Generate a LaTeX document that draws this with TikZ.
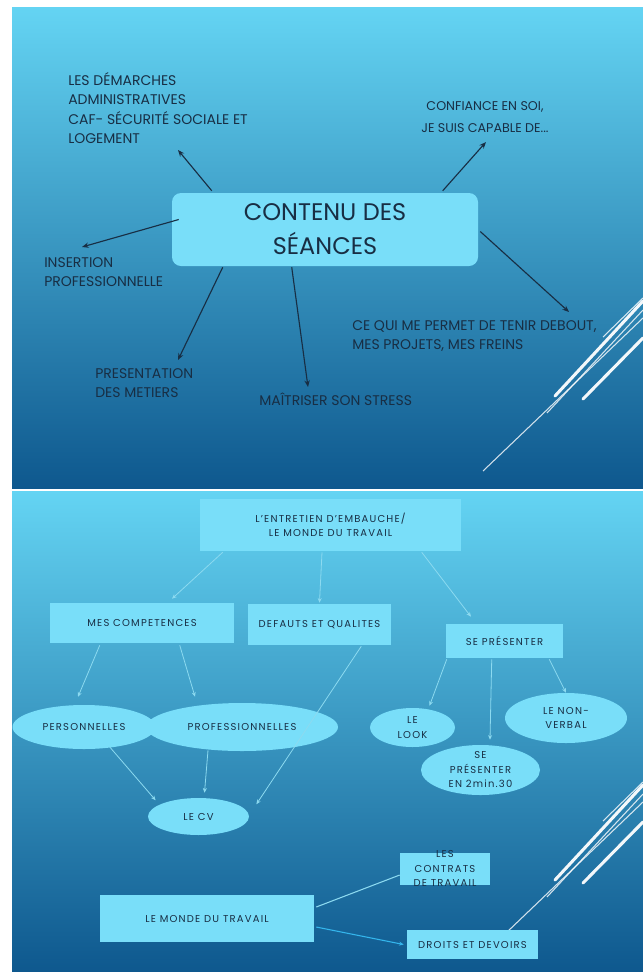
\documentclass[tikz,border=0pt]{standalone}
\usepackage{fontspec}
\setmainfont{Poppins}
\newfontfamily\trackfont[LetterSpace=12]{Poppins}
\usetikzlibrary{calc,positioning,shapes.geometric,arrows.meta}
\definecolor{slidetop}{RGB}{100,212,243}
\definecolor{slidemid}{RGB}{50,150,200}
\definecolor{slidebottom}{RGB}{14,88,142}
\definecolor{boxcyan}{RGB}{121,222,249}
\definecolor{ink}{RGB}{24,46,68}
\definecolor{linkcyan}{RGB}{140,218,240}
\newdimen\pxu \pxu=0.75pt
\newcommand{\stacked}[1]{\smash{\raisebox{-2pt}{\begin{tabular}{@{}c@{}}#1\end{tabular}}}}

\begin{document}
\begin{tikzpicture}[x=0.75pt,y=-0.75pt]
    \tikzstyle{mainbox}=[rectangle,rounded corners=9\pxu,fill=boxcyan,text=ink,minimum width=306\pxu,minimum height=73\pxu,align=center,font=\fontsize{18}{25.5}\selectfont];
    \tikzstyle{topnote}=[text=ink,align=left,inner sep=0pt,font=\fontsize{10.5}{14.6}\selectfont];
    \tikzstyle{darrow}=[draw=ink,line width=0.85pt,-{Stealth[length=5pt,width=4pt]}];
    \tikzstyle{subbox}=[rectangle,fill=boxcyan,text=ink,align=center,inner sep=0pt,font=\trackfont\fontsize{7.5}{10.9}\selectfont];
    \tikzstyle{subell}=[subbox,ellipse];
    \tikzstyle{larrow}=[draw=linkcyan,line width=0.6pt,-{Stealth[length=3.5pt,width=3pt]}];
    \tikzstyle{deco wide}=[white,line width=2.3pt,line cap=round,opacity=0.95];
    \tikzstyle{deco thin}=[white,line width=0.8pt,opacity=0.8];

    % Page and the two slides
    \fill[white] (0,0) rectangle (643,972);
    \useasboundingbox (0,0) rectangle (643,972);
    \foreach \sy in {7,491}
    \shade[top color=slidetop,middle color=slidemid,bottom color=slidebottom] (12,\sy) rectangle (643,\sy+481);

    % Decorative lines on the right of each slide
    \foreach \dy in {0,484} {
      \begin{scope}[shift={(0,\dy)}]
        \draw[deco thin] (483,471) -- (643,318);
        \draw[deco wide] (555,396) -- (643,301);
        \draw[deco thin] (547,413) -- (643,310);
        \draw[deco wide] (583,399) -- (643,338);
        \draw[deco thin] (603,337) -- (643,298);
      \end{scope}
    }

    % Draw the first slide
    \node[mainbox] (seances) at (325,229.5) {CONTENU DES\\SÉANCES};
    \node[topnote,anchor=west] (demarches) at (68,108) {LES DÉMARCHES\\ADMINISTRATIVES\\CAF- SÉCURITÉ SOCIALE ET\\LOGEMENT};
    \node[topnote,align=center,font=\fontsize{9.5}{16}\selectfont] (confiance) at (485,117) {CONFIANCE EN SOI,\\JE SUIS CAPABLE DE...};
    \node[topnote,anchor=west] (insertion) at (44,272) {INSERTION\\PROFESSIONNELLE};
    \node[topnote,anchor=west] (metiers) at (95,383) {PRESENTATION\\DES METIERS};
    \node[topnote,anchor=west] (stress) at (259,399) {MAÎTRISER SON STRESS};
    \node[topnote,anchor=west] (debout) at (352,336) {CE QUI ME PERMET DE TENIR DEBOUT,\\MES PROJETS, MES FREINS};

    % Arrow tips of the first slide
    \coordinate (tip-dem) at (178,150);
    \coordinate (tip-conf) at (486,142);
    \coordinate (tip-ins) at (82,247);
    \coordinate (tip-met) at (178,360);
    \coordinate (tip-str) at (308,387);
    \coordinate (tip-deb) at (569,312);

    \draw[darrow] ($(seances.north west)+(40,-2)$) -- (tip-dem);
    \draw[darrow] ($(seances.north west)+(271,-2)$) -- (tip-conf);
    \draw[darrow] ($(seances.west)+(7,-10)$) -- (tip-ins);
    \draw[darrow] ($(seances.south west)+(51,1)$) -- (tip-met);
    \draw[darrow] ($(seances.south west)+(120,1)$) -- (tip-str);
    \draw[darrow] ($(seances.east)+(2,2)$) -- (tip-deb);

    % Draw the second slide
    \node[subbox,minimum width=261\pxu,minimum height=52\pxu] (entretien) at (330.5,525) {L’ENTRETIEN D’EMBAUCHE/\\LE MONDE DU TRAVAIL};
    \node[subbox,minimum width=184\pxu,minimum height=40\pxu] (competences) at (142,623) {MES COMPETENCES};
    \node[subbox,minimum width=143\pxu,minimum height=41\pxu] (defauts) at (319.5,624.5) {DEFAUTS ET QUALITES};
    \node[subbox,minimum width=117\pxu,minimum height=34\pxu] (presenter) at (504.5,641) {SE PRÉSENTER};
    \node[subell,minimum width=143\pxu,minimum height=44\pxu] (perso) at (84,727) {PERSONNELLES};
    \node[subell,minimum width=192\pxu,minimum height=48\pxu] (pro) at (242,727) {PROFESSIONNELLES};
    \node[subell,minimum width=101\pxu,minimum height=37\pxu] (cv) at (198.5,816.5) {LE CV};
    \node[subell,minimum width=85\pxu,minimum height=39\pxu] (look) at (412.5,727.5) {LE\\LOOK};
    \node[subell,minimum width=122\pxu,minimum height=50\pxu] (nonverbal) at (566,718) {LE NON-\\VERBAL};
    \node[subell,minimum width=119\pxu,minimum height=50\pxu] (deuxmin) at (480.5,770) {\stacked{SE\\PRÉSENTER\\EN 2min.30}};
    \node[subbox,minimum width=214\pxu,minimum height=47\pxu] (monde) at (207,918.5) {LE MONDE DU TRAVAIL};
    \node[subbox,minimum width=90\pxu,minimum height=32\pxu] (contrats) at (445,869) {\stacked{LES\\CONTRATS\\DE TRAVAIL}};
    \node[subbox,minimum width=131\pxu,minimum height=29\pxu] (droits) at (472.5,944.5) {DROITS ET DEVOIRS};

    % Connect the boxes of the second slide
    \draw[larrow] ($(entretien.south west)+(23,1)$) -- ($(competences.north)+(30,-4)$);
    \draw[larrow] ($(entretien.south)+(-8.5,1)$) -- ($(defauts.north)+(0,-1)$);
    \draw[larrow] ($(entretien.south west)+(222,1)$) -- ($(presenter.north)+(-33.5,-7)$);
    \draw[larrow] ($(competences.south west)+(50,2)$) -- ($(perso.north)+(-6,-8)$);
    \draw[larrow] ($(competences.south west)+(130,2)$) -- ($(pro.north)+(-47,-6)$);
    \draw[larrow] ($(perso.south)+(26,-2)$) -- ($(cv.north west)+(-7,-3)$);
    \draw[larrow] ($(pro.south)+(-34,-1)$) -- ($(cv.north)+(6,-5)$);
    \draw[larrow] ($(defauts.south east)+(-30,1)$) -- ($(cv.north east)+(22,1)$);
    \draw[larrow] ($(presenter.south west)+(1,1)$) -- ($(look.north)+(17,-2)$);
    \draw[larrow] ($(presenter.south west)+(46,1)$) -- ($(deuxmin.north)+(9.5,-5)$);
    \draw[larrow] ($(presenter.south east)+(-14,1)$) -- (nonverbal.north);
    \draw[draw=linkcyan,line width=0.8pt] ($(monde.east)+(2,-11.5)$) -- ($(contrats.west)+(0,6)$);
    \draw[larrow,draw=cyan!60!boxcyan,line width=0.8pt] ($(monde.east)+(2,8.5)$) -- ($(droits.west)+(-3,0)$);
\end{tikzpicture}
\end{document}
